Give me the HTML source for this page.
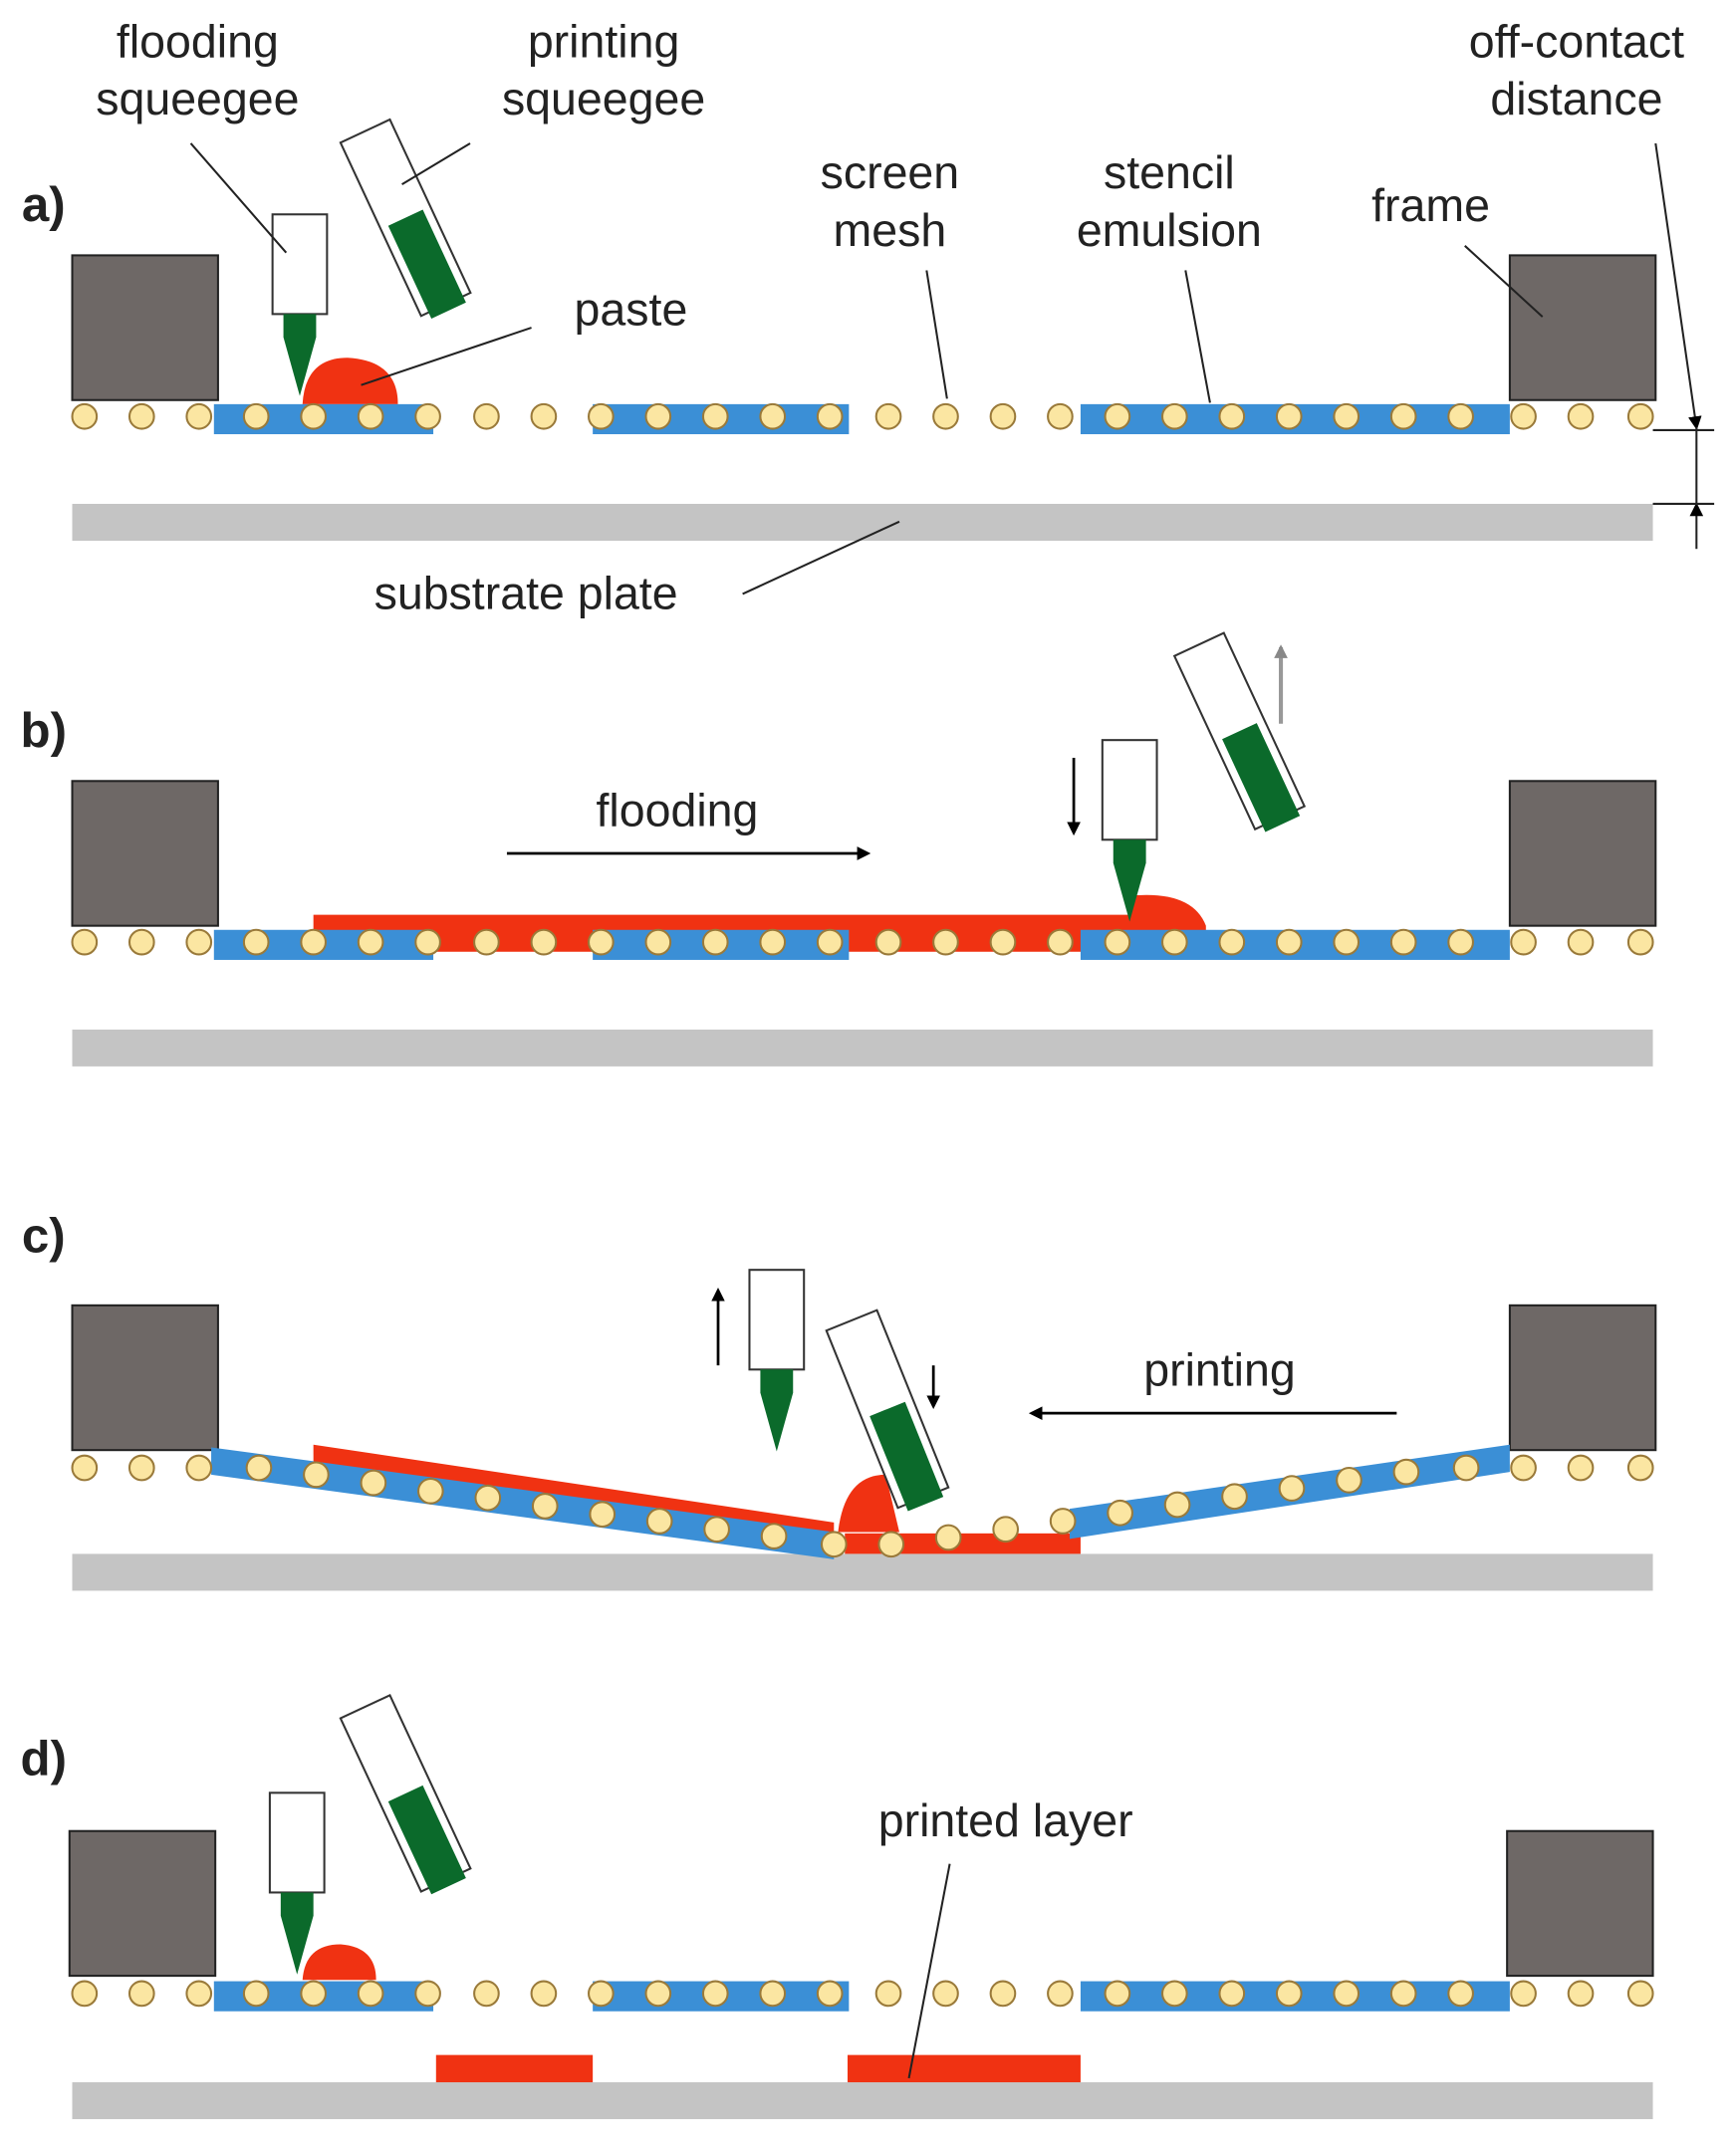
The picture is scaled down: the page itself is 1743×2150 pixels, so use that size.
<!DOCTYPE html>
<html><head><meta charset="utf-8"><style>html,body{margin:0;padding:0;background:#fff}svg{display:block}</style></head>
<body>
<svg width="1743" height="2150" viewBox="0 0 1274 1568" preserveAspectRatio="none" xmlns="http://www.w3.org/2000/svg" font-family="Liberation Sans, sans-serif">
<defs>
<g id="dot"><circle r="9" fill="#fbe6a2" stroke="#9a7a3a" stroke-width="1.5"/></g>
<marker id="ah" markerWidth="10" markerHeight="10" refX="8" refY="5" orient="auto" markerUnits="userSpaceOnUse"><path d="M0,0 L10,5 L0,10 z" fill="#000"/></marker>
<marker id="ahg" markerWidth="10" markerHeight="10" refX="8" refY="5" orient="auto" markerUnits="userSpaceOnUse"><path d="M0,0 L10,5 L0,10 z" fill="#888"/></marker>
<g id="vsq"><rect x="-20" y="0" width="40" height="73" fill="#fff" stroke="#333" stroke-width="1.5"/><path d="M-12,73 L12,73 L12,90 L0,133 L-12,90 z" fill="#0b6a2b"/></g>
<g id="tsq"><rect x="-20" y="0" width="40" height="140" fill="#fff" stroke="#333" stroke-width="1.5"/><rect x="-14" y="70" width="28" height="75" fill="#0b6a2b"/></g>
<g id="frames"><rect x="53" y="0" width="107" height="106" fill="#6e6866" stroke="#222" stroke-width="1.5"/><rect x="1108" y="0" width="107" height="106" fill="#6e6866" stroke="#222" stroke-width="1.5"/></g>
<g id="flat">
<rect x="157" y="-9" width="161" height="22" fill="#3b8fd6"/><rect x="435" y="-9" width="188" height="22" fill="#3b8fd6"/><rect x="793" y="-9" width="315" height="22" fill="#3b8fd6"/>
<use href="#dot" x="62"/><use href="#dot" x="104"/><use href="#dot" x="146"/><use href="#dot" x="188"/><use href="#dot" x="230"/><use href="#dot" x="272"/><use href="#dot" x="314"/><use href="#dot" x="357"/><use href="#dot" x="399"/><use href="#dot" x="441"/><use href="#dot" x="483"/><use href="#dot" x="525"/><use href="#dot" x="567"/><use href="#dot" x="609"/><use href="#dot" x="652"/><use href="#dot" x="694"/><use href="#dot" x="736"/><use href="#dot" x="778"/><use href="#dot" x="820"/><use href="#dot" x="862"/><use href="#dot" x="904"/><use href="#dot" x="946"/><use href="#dot" x="988"/><use href="#dot" x="1030"/><use href="#dot" x="1072"/><use href="#dot" x="1118"/><use href="#dot" x="1160"/><use href="#dot" x="1204"/>
</g>
</defs>
<g font-size="34" fill="#222" text-anchor="middle">
<text x="32" y="162" font-weight="bold" font-size="36">a)</text>
<use href="#frames" y="187"/>
<rect x="53" y="369" width="1160" height="27" fill="#c4c4c4"/>
<path d="M222,296 Q224,262 255,262 Q292,264 292,296 z" fill="#f03212"/>
<use href="#flat" y="305"/>
<use href="#vsq" x="220" y="157"/>
<use href="#tsq" transform="translate(268,96) rotate(-25)"/>
<text x="145" y="42">flooding</text><text x="145" y="84">squeegee</text>
<text x="443" y="42">printing</text><text x="443" y="84">squeegee</text>
<text x="653" y="138">screen</text><text x="653" y="180">mesh</text>
<text x="858" y="138">stencil</text><text x="858" y="180">emulsion</text>
<text x="1050" y="162">frame</text>
<text x="1157" y="42">off-contact</text><text x="1157" y="84">distance</text>
<text x="463" y="238">paste</text>
<text x="386" y="446">substrate plate</text>
<g stroke="#222" stroke-width="1.5" fill="none">
<line x1="140" y1="105" x2="210" y2="185"/>
<line x1="345" y1="105" x2="295" y2="135"/>
<line x1="390" y1="240" x2="265" y2="282"/>
<line x1="680" y1="198" x2="695" y2="292"/>
<line x1="870" y1="198" x2="888" y2="295"/>
<line x1="1075" y1="180" x2="1132" y2="232"/>
<line x1="545" y1="435" x2="660" y2="382"/>
<line x1="1215" y1="105" x2="1245" y2="313" marker-end="url(#ah)"/>
<line x1="1245" y1="313" x2="1245" y2="369"/>
<line x1="1245" y1="402" x2="1245" y2="370" marker-end="url(#ah)"/>
<line x1="1213" y1="315" x2="1258" y2="315"/><line x1="1213" y1="369" x2="1258" y2="369"/>
</g>
<text x="32" y="547" font-weight="bold" font-size="36">b)</text>
<use href="#frames" y="572"/>
<rect x="53" y="754" width="1160" height="27" fill="#c4c4c4"/>
<path d="M230,670 L830,670 L830,656 Q875,652 885,678 L885,697 L230,697 z" fill="#f03212"/>
<use href="#flat" y="690"/>
<use href="#vsq" x="829" y="542"/>
<use href="#tsq" transform="translate(880,472) rotate(-25)"/>
<text x="497" y="605">flooding</text>
<line x1="372" y1="625" x2="637" y2="625" stroke="#000" stroke-width="2" marker-end="url(#ah)"/>
<line x1="788" y1="555" x2="788" y2="610" stroke="#000" stroke-width="2" marker-end="url(#ah)"/>
<line x1="940" y1="530" x2="940" y2="474" stroke="#999" stroke-width="3" marker-end="url(#ahg)"/>
<text x="32" y="917" font-weight="bold" font-size="36">c)</text>
<use href="#frames" y="956"/>
<rect x="53" y="1138" width="1160" height="27" fill="#c4c4c4"/>
<rect x="620" y="1123" width="173" height="15" fill="#f03212"/>
<polygon points="230,1058 612,1115 612,1130 230,1072" fill="#f03212"/>
<path d="M615,1122 Q620,1080 650,1080 L660,1122 z" fill="#f03212"/>
<polygon points="155,1060 612,1122 612,1142 155,1080" fill="#3b8fd6"/>
<polygon points="785,1105 1108,1058 1108,1078 785,1127" fill="#3b8fd6"/>
<use href="#dot" x="62" y="1075"/><use href="#dot" x="104" y="1075"/><use href="#dot" x="146" y="1075"/>
<use href="#dot" x="190" y="1075"/><use href="#dot" x="232" y="1080"/><use href="#dot" x="274" y="1086"/><use href="#dot" x="316" y="1092"/><use href="#dot" x="358" y="1097"/><use href="#dot" x="400" y="1103"/><use href="#dot" x="442" y="1109"/><use href="#dot" x="484" y="1114"/><use href="#dot" x="526" y="1120"/><use href="#dot" x="568" y="1125"/><use href="#dot" x="612" y="1131"/><use href="#dot" x="654" y="1131"/><use href="#dot" x="696" y="1126"/><use href="#dot" x="738" y="1120"/><use href="#dot" x="780" y="1114"/><use href="#dot" x="822" y="1108"/><use href="#dot" x="864" y="1102"/><use href="#dot" x="906" y="1096"/><use href="#dot" x="948" y="1090"/><use href="#dot" x="990" y="1084"/><use href="#dot" x="1032" y="1078"/><use href="#dot" x="1076" y="1075"/><use href="#dot" x="1118" y="1075"/><use href="#dot" x="1160" y="1075"/><use href="#dot" x="1204" y="1075"/>
<use href="#vsq" x="570" y="930"/>
<use href="#tsq" transform="translate(625,967) rotate(-22)"/>
<text x="895" y="1015">printing</text>
<line x1="1025" y1="1035" x2="757" y2="1035" stroke="#000" stroke-width="2" marker-end="url(#ah)"/>
<line x1="527" y1="1000" x2="527" y2="945" stroke="#000" stroke-width="2" marker-end="url(#ah)"/>
<line x1="685" y1="1000" x2="685" y2="1030" stroke="#000" stroke-width="2" marker-end="url(#ah)"/>
<text x="32" y="1300" font-weight="bold" font-size="36">d)</text>
<g transform="translate(-2,0)"><use href="#frames" y="1341"/></g>
<rect x="53" y="1525" width="1160" height="27" fill="#c4c4c4"/>
<rect x="320" y="1505" width="115" height="20" fill="#f03212"/>
<rect x="622" y="1505" width="171" height="20" fill="#f03212"/>
<path d="M222,1450 Q224,1424 250,1424 Q276,1426 276,1450 z" fill="#f03212"/>
<use href="#flat" y="1460"/>
<use href="#vsq" x="218" y="1313"/>
<use href="#tsq" transform="translate(268,1250) rotate(-25)"/>
<text x="738" y="1345">printed layer</text>
<line x1="697" y1="1365" x2="667" y2="1522" stroke="#222" stroke-width="1.5"/>
</g>
</svg>
</body></html>
